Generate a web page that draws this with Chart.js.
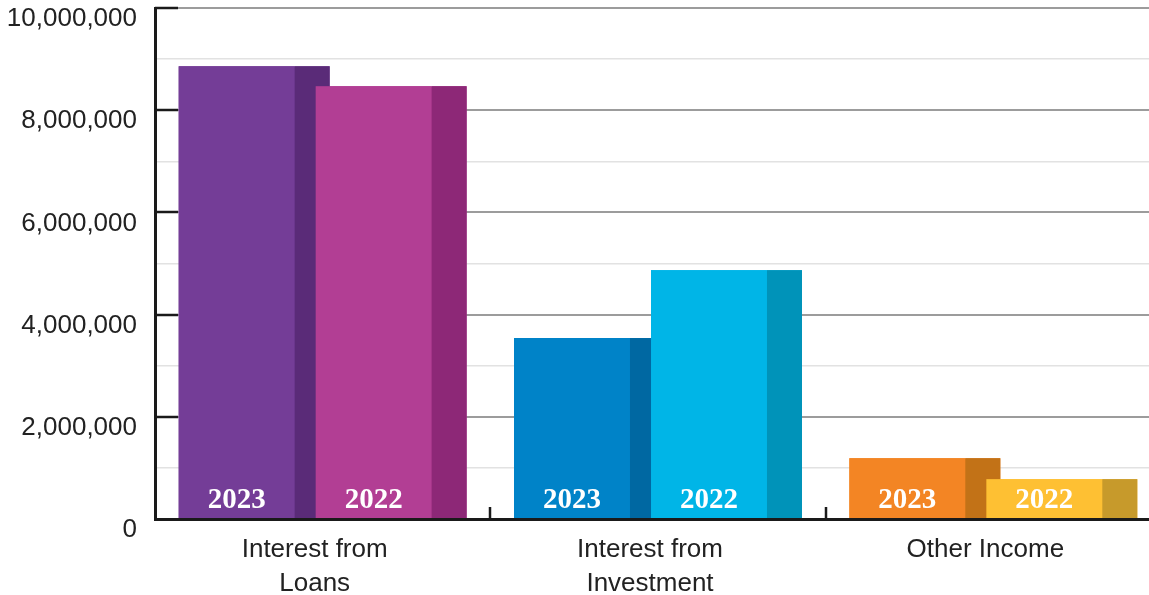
<!DOCTYPE html>
<html lang="en">
<head>
    <meta charset="UTF-8">
    <title>Income Comparison</title>
    <script src="https://cdn.jsdelivr.net/npm/chart.js"></script>
    <style>
        body {
            margin: 0;
            background: #fff;
            overflow: hidden;
        }
        .wrap {
            width: 1161px;
            height: 595px;
        }
    </style>
</head>
<body>
    <div class="wrap"><canvas id="incomeChart"></canvas></div>

    <script>
        // chart data
        const categories = [['Interest from', 'Loans'], ['Interest from', 'Investment'], 'Other Income'];
        const years = ['2023', '2022'];
        const values2023 = [8860000, 3540000, 1190000];
        const values2022 = [8470000, 4870000, 780000];
        const yTicks = [0, 2000000, 4000000, 6000000, 8000000, 10000000];

        const front2023 = ['#743d97', '#0083c8', '#f38524'];
        const side2023 = ['#5a2b78', '#0068a2', '#c27217'];
        const front2022 = ['#b23e94', '#00b5e7', '#fec033'];
        const side2022 = ['#8d2877', '#0093b9', '#c79a2b'];

        const sideShare = 35 / 151;

        // draws the bars with a darker right side, 2022 over 2023, plus the year labels
        const barFaces = {
            id: 'barFaces',
            afterDatasetsDraw(chart) {
                const ctx = chart.ctx;
                const sides = [side2023, side2022];
                ctx.save();
                [0, 1].forEach(di => {
                    const meta = chart.getDatasetMeta(di);
                    const fronts = chart.data.datasets[di].backgroundColor;
                    meta.data.forEach((bar, i) => {
                        const left = bar.x - bar.width / 2;
                        const w = bar.width;
                        const h = bar.base - bar.y;
                        const sideW = Math.round(w * sideShare);
                        ctx.fillStyle = fronts[i];
                        ctx.fillRect(left, bar.y, w - sideW, h);
                        ctx.fillStyle = sides[di][i];
                        ctx.fillRect(left + w - sideW, bar.y, sideW, h);
                        ctx.fillStyle = '#ffffff';
                        ctx.font = 'bold 29px "Liberation Serif", "Times New Roman", serif';
                        ctx.textAlign = 'center';
                        ctx.textBaseline = 'alphabetic';
                        ctx.fillText(years[di], left + (w - sideW) / 2, bar.base - 10);
                    });
                });
                ctx.restore();
            },
            afterDraw(chart) {
                const ctx = chart.ctx;
                const y = chart.scales.y;
                const x = chart.scales.x;
                const area = chart.chartArea;
                ctx.save();
                ctx.strokeStyle = '#1a1a1a';
                ctx.lineWidth = 2.5;
                // short black ticks on the y axis at every major line
                yTicks.forEach(v => {
                    if (v === 0) return;
                    const py = Math.round(y.getPixelForValue(v));
                    ctx.beginPath();
                    ctx.moveTo(area.left, py);
                    ctx.lineTo(area.left + 23, py);
                    ctx.stroke();
                });
                // category dividers on the x axis
                for (let i = 0; i < categories.length; i++) {
                    const px = Math.round(x.getPixelForValue(i) + (x.getPixelForValue(1) - x.getPixelForValue(0)) / 2);
                    ctx.beginPath();
                    ctx.moveTo(px, area.bottom);
                    ctx.lineTo(px, area.bottom - 12);
                    ctx.stroke();
                }
                ctx.restore();
            }
        };

        const ctx = document.getElementById('incomeChart').getContext('2d');
        const incomeChart = new Chart(ctx, {
            type: 'bar',
            data: {
                labels: categories,
                datasets: [{
                    label: years[0],
                    data: values2023,
                    backgroundColor: front2023
                }, {
                    label: years[1],
                    data: values2022,
                    backgroundColor: front2022
                }]
            },
            options: {
                responsive: true,
                maintainAspectRatio: false,
                animation: false,
                datasets: {
                    bar: {
                        categoryPercentage: 0.817,
                        barPercentage: 1.102
                    }
                },
                layout: {
                    padding: { top: 8, right: 0, bottom: 0, left: 0 }
                },
                plugins: {
                    legend: { display: false },
                    tooltip: { enabled: false }
                },
                scales: {
                    x: {
                        grid: { display: false, drawTicks: false },
                        border: { color: '#1a1a1a', width: 3 },
                        ticks: {
                            color: '#222',
                            font: { family: '"Liberation Sans", Arial, sans-serif', size: 26, lineHeight: 1.3 },
                            padding: 14,
                            labelOffset: -8,
                            maxRotation: 0,
                            autoSkip: false
                        },
                        afterFit(scale) {
                            scale.height = 76;
                            scale.paddingLeft = 0;
                            scale.paddingRight = 0;
                        }
                    },
                    y: {
                        min: 0,
                        max: 10000000,
                        border: { color: '#1a1a1a', width: 3 },
                        grid: {
                            drawTicks: false,
                            color: c => (c.tick.value % 2000000 === 0 ? '#9c9c9c' : '#e2e2e2'),
                            lineWidth: c => (c.tick.value % 2000000 === 0 ? 2 : 1.5)
                        },
                        ticks: {
                            stepSize: 1000000,
                            color: '#222',
                            font: { family: '"Liberation Sans", Arial, sans-serif', size: 26 },
                            padding: 18,
                            labelOffset: 11,
                            callback: v => (yTicks.includes(v) ? v.toLocaleString('en-US') : '')
                        },
                        afterFit(scale) {
                            scale.width = 155;
                            scale.paddingTop = 0;
                            scale.paddingBottom = 0;
                        }
                    }
                }
            },
            plugins: [barFaces]
        });
    </script>
</body>
</html>
